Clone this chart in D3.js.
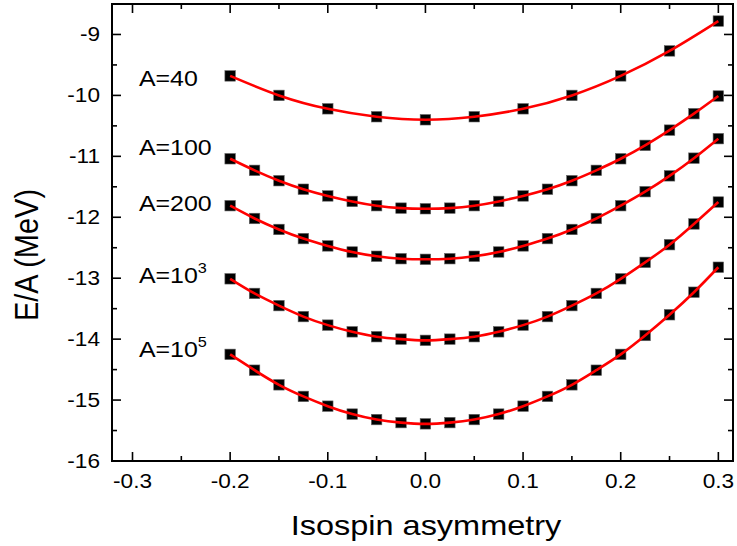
<!DOCTYPE html>
<html>
<head>
<meta charset="utf-8">
<script src="https://cdn.jsdelivr.net/npm/d3@7"></script>
<style>
  body { margin: 0; background: #fff; }
  text { font-family: "Liberation Sans", Arial, sans-serif; fill: #000; }
</style>
</head>
<body>
<svg width="737" height="546"></svg>
<script>
// isospin asymmetry values
const deltaCoarse = [-0.2, -0.15, -0.1, -0.05, 0, 0.05, 0.1, 0.15, 0.2, 0.25, 0.3];
const deltaFine = [-0.2, -0.175, -0.15, -0.125, -0.1, -0.075, -0.05, -0.025, 0,
    0.025, 0.05, 0.075, 0.1, 0.125, 0.15, 0.175, 0.2, 0.225, 0.25, 0.275, 0.3];

// E/A (MeV)
const eA40 = [-9.68, -10.00, -10.22, -10.35, -10.40, -10.35, -10.22, -10.00, -9.68, -9.27, -8.78];
const eA100 = [-11.04, -11.23, -11.40, -11.54, -11.65, -11.74, -11.81, -11.85, -11.86,
    -11.85, -11.81, -11.74, -11.65, -11.54, -11.40, -11.23, -11.04, -10.82, -10.57, -10.30, -10.01];
const eA200 = [-11.81, -12.02, -12.20, -12.35, -12.47, -12.57, -12.64, -12.68, -12.69,
    -12.68, -12.64, -12.57, -12.47, -12.35, -12.20, -12.02, -11.81, -11.58, -11.32, -11.03, -10.71];
const eA1e3 = [-13.01, -13.25, -13.45, -13.63, -13.77, -13.88, -13.96, -14.00, -14.02,
    -14.00, -13.96, -13.88, -13.77, -13.63, -13.45, -13.25, -13.01, -12.74, -12.45, -12.11, -11.75];
const eA1e5 = [-14.25, -14.51, -14.75, -14.94, -15.10, -15.23, -15.32, -15.37, -15.39,
    -15.37, -15.32, -15.23, -15.10, -14.94, -14.75, -14.51, -14.25, -13.94, -13.60, -13.23, -12.82];

const series = [
    { x: deltaCoarse, y: eA40 },
    { x: deltaFine, y: eA100 },
    { x: deltaFine, y: eA200 },
    { x: deltaFine, y: eA1e3 },
    { x: deltaFine, y: eA1e5 }
];

// curve labels: base text, superscript, anchor in data units
const labelBase = ["A=40", "A=100", "A=200", "A=10", "A=10"];
const labelSup = ["", "", "", "3", "5"];
const labelX = [-0.2934, -0.2934, -0.2934, -0.2934, -0.2934];
const labelY = [-9.85, -10.97, -11.90, -13.08, -14.30];

const xTicks = [-0.3, -0.2, -0.1, 0.0, 0.1, 0.2, 0.3];
const xMinor = [-0.25, -0.15, -0.05, 0.05, 0.15, 0.25];
const yTicks = [-16, -15, -14, -13, -12, -11, -10, -9];
const yMinor = [-15.5, -14.5, -13.5, -12.5, -11.5, -10.5, -9.5, -8.5];

const svg = d3.select("svg");
const pl = 112, pr = 733, pt = 4, pb = 461;
const stretch = 1.16; // the original text is a bit wide

const x = d3.scaleLinear().domain([-0.321, 0.315]).range([pl, pr]);
const y = d3.scaleLinear().domain([-16, -8.5]).range([pb, pt]);

// ticks, inward on all four sides
const axes = svg.append("g").attr("stroke", "#000").attr("stroke-width", 1.6);
function xticks(vals, len) {
    vals.forEach(v => {
        axes.append("line").attr("x1", x(v)).attr("x2", x(v)).attr("y1", pb).attr("y2", pb - len);
        axes.append("line").attr("x1", x(v)).attr("x2", x(v)).attr("y1", pt).attr("y2", pt + len);
    });
}
xticks(xTicks, 9);
xticks(xMinor, 5);
function yticks(vals, len) {
    vals.forEach(v => {
        axes.append("line").attr("y1", y(v)).attr("y2", y(v)).attr("x1", pl).attr("x2", pl + len);
        axes.append("line").attr("y1", y(v)).attr("y2", y(v)).attr("x1", pr).attr("x2", pr - len);
    });
}
yticks(yTicks, 9);
yticks(yMinor, 5);

svg.append("rect")
    .attr("x", pl).attr("y", pt)
    .attr("width", pr - pl).attr("height", pb - pt)
    .attr("fill", "none").attr("stroke", "#000").attr("stroke-width", 2);

function stretchedText(g, tx, ty, str, size, anchor) {
    return g.append("text")
        .attr("transform", `translate(${tx},${ty}) scale(${stretch},1)`)
        .attr("text-anchor", anchor)
        .attr("font-size", size)
        .text(str);
}

// plain hyphen for the minus sign, as in the original
const fmtX = v => v.toFixed(1);
xTicks.forEach(v => stretchedText(svg, x(v), 488, fmtX(v), 19.5, "middle"));
yTicks.forEach(v => stretchedText(svg, 100, y(v) + 7, String(v), 19.5, "end"));

stretchedText(svg, 426, 535, "Isospin asymmetry", 28, "middle");
svg.append("text")
    .attr("transform", `translate(38,255) rotate(-90) scale(1,${stretch})`)
    .attr("text-anchor", "middle")
    .attr("font-size", 29)
    .text("E/A (MeV)");

// markers, then the red fit lines on top
const line = d3.line()
    .x(d => x(d[0]))
    .y(d => y(d[1]))
    .curve(d3.curveNatural);

const sq = 10.5;
series.forEach(s => {
    const pts = s.x.map((v, i) => [v, s.y[i]]);
    svg.append("g").selectAll("rect")
        .data(pts)
        .join("rect")
        .attr("x", d => x(d[0]) - sq / 2)
        .attr("y", d => y(d[1]) - sq / 2)
        .attr("width", sq).attr("height", sq)
        .attr("fill", "#000")
        .attr("stroke", "#666").attr("stroke-width", 0.6);
    svg.append("path")
        .attr("d", line(pts))
        .attr("fill", "none")
        .attr("stroke", "#ff0000")
        .attr("stroke-width", 2.6);
});

labelBase.forEach((t, i) => {
    const txt = stretchedText(svg, x(labelX[i]), y(labelY[i]), t, 21.5, "start");
    if (labelSup[i]) {
        txt.append("tspan").attr("dy", -10).attr("font-size", 14).text(labelSup[i]);
    }
});
</script>
</body>
</html>
